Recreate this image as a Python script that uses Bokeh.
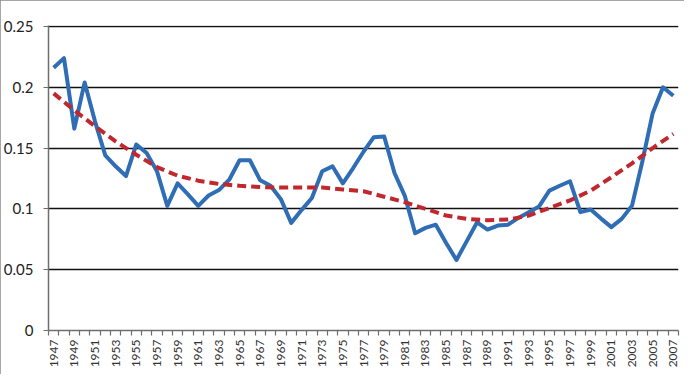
import math
from bokeh.plotting import figure
from bokeh.models import Range1d, FixedTicker, InlineStyleSheet
from bokeh.embed import file_html
from bokeh.resources import INLINE

years = list(range(1947, 2008))
values = [0.216, 0.224, 0.166, 0.204, 0.172, 0.144, 0.135, 0.127, 0.153, 0.146,
          0.131, 0.1025, 0.121, 0.112, 0.1025, 0.111, 0.1155, 0.124, 0.140, 0.140,
          0.1235, 0.119, 0.108, 0.0885, 0.099, 0.109, 0.131, 0.135, 0.121, 0.1336,
          0.147, 0.159, 0.1596, 0.1295, 0.1107, 0.080, 0.0844, 0.087, 0.072, 0.058,
          0.0735, 0.089, 0.083, 0.0863, 0.087, 0.0926, 0.0973, 0.102, 0.115, 0.119,
          0.1227, 0.0973, 0.0995, 0.092, 0.085, 0.0918, 0.1027, 0.139, 0.1787, 0.200,
          0.193]

trend_years = list(range(1947, 2008, 2))
trend_values = [0.195, 0.181, 0.168, 0.1555, 0.1445, 0.1344, 0.1273, 0.1232, 0.1205, 0.119,
                0.118, 0.1175, 0.1175, 0.1175, 0.116, 0.1145, 0.110, 0.1055, 0.100, 0.0945,
                0.0918, 0.0907, 0.0912, 0.0945, 0.1008, 0.107, 0.115, 0.126, 0.1375, 0.150,
                0.1617]

y_ticks = [0, 0.05, 0.1, 0.15, 0.2, 0.25]
y_tick_labels = ["0", "0.05", "0.1", "0.15", "0.2", "0.25"]
x_label_years = list(range(1947, 2008, 2))

frame_css = InlineStyleSheet(css=":host { outline: 2px solid #8a8a8a; outline-offset: -2px; }")

p = figure(width=684, height=374, output_backend="svg", toolbar_location=None,
           x_range=Range1d(1946.5, 2007.5), y_range=Range1d(0, 0.2508),
           min_border_left=46, min_border_right=6, min_border_top=25, min_border_bottom=44,
           stylesheets=[frame_css])
p.outline_line_color = None
p.background_fill_color = "white"
p.border_fill_color = "white"

y_ticker = FixedTicker(ticks=y_ticks, minor_ticks=[])

# grid
p.xgrid.grid_line_color = None
p.ygrid.ticker = y_ticker
p.ygrid.grid_line_color = "#111111"
p.ygrid.grid_line_width = 1.3

# y axis
p.yaxis.ticker = y_ticker
p.yaxis.major_label_overrides = {t: s for t, s in zip(y_ticks, y_tick_labels)}
p.yaxis.axis_line_color = "#6e6e6e"
p.yaxis.axis_line_width = 1.5
p.yaxis.major_tick_line_color = "#6e6e6e"
p.yaxis.major_tick_in = 0
p.yaxis.major_tick_out = 5
p.yaxis.major_label_standoff = 10
p.yaxis.major_label_text_font = "Lato"
p.yaxis.major_label_text_font_size = "15px"
p.yaxis.major_label_text_color = "#222222"

# x axis
half_years = [y - 0.5 for y in years] + [years[-1] + 0.5]
p.xaxis.ticker = FixedTicker(ticks=x_label_years, minor_ticks=half_years)
p.xaxis.major_label_overrides = {y: str(y) for y in x_label_years}
p.xaxis.axis_line_color = "#6e6e6e"
p.xaxis.axis_line_width = 1.5
p.xaxis.major_tick_line_color = None
p.xaxis.minor_tick_line_color = "#6e6e6e"
p.xaxis.minor_tick_line_width = 1.2
p.xaxis.minor_tick_in = 0
p.xaxis.minor_tick_out = 5
p.xaxis.major_tick_out = 5
p.xaxis.major_tick_in = 0
p.xaxis.major_label_orientation = math.pi / 2
p.xaxis.major_label_standoff = 4
p.xaxis.major_label_text_font = "Lato"
p.xaxis.major_label_text_font_size = "12px"
p.xaxis.major_label_text_color = "#333333"

p.line(years, values, line_color="#2F6DB5", line_width=4, line_join="round")
p.line(trend_years, trend_values, line_color="#C0282D", line_width=4,
       line_dash="9 5", line_join="round")

open("out.html", "w").write(file_html(p, INLINE))
